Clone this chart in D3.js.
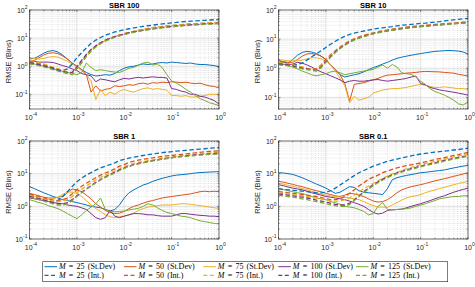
<!DOCTYPE html>
<html>
<head>
<meta charset="utf-8">
<script src="https://cdn.jsdelivr.net/npm/d3@7"></script>
<style>
body { margin: 0; background: #fff; }
</style>
</head>
<body>
<div id="chart"></div>
<script>
// x grid as powers of ten (exponents)
const xExp = [-4.0, -3.9, -3.8, -3.7, -3.6, -3.5, -3.4, -3.3, -3.2, -3.1,
              -3.0, -2.9, -2.8, -2.7, -2.6, -2.5, -2.4, -2.3, -2.2, -2.1,
              -2.0, -1.9, -1.8, -1.7, -1.6, -1.5, -1.4, -1.3, -1.2, -1.1,
              -1.0, -0.9, -0.8, -0.7, -0.6, -0.5, -0.4, -0.3, -0.2, -0.1, 0.0];
const mValues = [25, 50, 75, 100, 125];
const titles = ["SBR 100", "SBR 10", "SBR 1", "SBR 0.1"];
const yMins = [0.03, 0.04, 0.1, 0.1];
const xTicks = [-4, -3, -2, -1, 0];
const yTicks = [-1, 0, 1, 2];

// RMSE, St.Dev (solid) and Int. (dashed), one row per M
const sbr100Std = [
  [1.8,1.9,2.3,2.9,3.4,3.6,3.2,2.5,1.8,1.3, 1.0,0.75,0.6,0.5,0.45,0.47,0.5,0.48,0.55,0.7, 0.85,0.95,1.0,1.1,1.2,1.15,1.2,1.3,1.35,1.3, 1.4,1.35,1.3,1.25,1.3,1.2,1.15,1.15,1.1,1.05, 0.95],
  [1.5,1.6,2.0,2.5,2.9,3.0,2.8,2.3,1.8,1.3, 1.0,0.75,0.5,0.12,0.2,0.13,0.15,0.16,0.2,0.19, 0.2,0.22,0.21,0.24,0.25,0.23,0.26,0.25,0.27,0.26, 0.28,0.27,0.26,0.27,0.25,0.24,0.25,0.22,0.2,0.19, 0.17],
  [2.0,1.9,1.8,1.9,2.1,2.2,2.1,1.8,1.5,1.2, 0.95,0.7,0.5,0.3,0.065,0.15,0.09,0.12,0.1,0.13, 0.15,0.13,0.12,0.14,0.16,0.17,0.15,0.16,0.15,0.14, 0.09,0.09,0.085,0.09,0.08,0.08,0.085,0.09,0.1,0.1, 0.1],
  [1.4,1.5,1.4,1.4,1.4,1.35,1.2,1.05,0.95,0.8, 0.7,0.55,0.5,0.45,0.28,0.35,0.33,0.3,0.28,0.33, 0.37,0.35,0.38,0.4,0.38,0.4,0.42,0.4,0.4,0.38, 0.16,0.15,0.13,0.12,0.1,0.1,0.085,0.08,0.07,0.06, 0.045],
  [1.25,1.2,1.1,1.0,0.9,0.8,0.72,0.65,0.6,0.55, 0.5,0.6,1.3,0.9,0.7,0.75,0.7,0.65,0.62,0.6, 0.7,0.85,0.9,1.1,1.3,1.4,1.1,1.2,0.9,0.5, 0.3,0.25,0.2,0.15,0.12,0.09,0.07,0.06,0.05,0.045, 0.04]
];
const sbr100Int = [
  [1.3,1.25,1.1,1.0,0.9,0.8,0.7,0.7,0.8,1.2, 2.0,3.0,4.5,6.5,8.5,10.5,12.5,14.5,16.5,18, 20,21.5,23,24.5,26,27.5,29,30.5,32,33.5, 35,36,37.5,39,40,41,42,43,44,45, 46],
  [1.5,1.4,1.3,1.15,1.0,0.9,0.8,0.7,0.6,0.55, 0.9,1.5,2.5,3.8,5.2,6.8,8.5,10,11.5,13, 14.5,16,17.5,19,20.5,22,23.5,25,26,27, 28,29,30,31,32,32.5,33,34,35,35.5, 36],
  [1.6,1.5,1.35,1.2,1.05,0.9,0.8,0.7,0.6,0.55, 0.85,1.4,2.4,3.7,5.1,6.7,8.3,9.8,11.3,12.8, 14.2,15.5,17,18.5,20,21.5,23,24.5,25.5,26.5, 27.5,28.5,29.5,30.5,31.5,32,33,33.5,34.5,35, 35.5],
  [1.3,1.25,1.15,1.05,0.95,0.85,0.75,0.65,0.6,0.6, 0.95,1.6,2.6,3.9,5.3,6.8,8.3,9.8,11.2,12.5, 14,15.3,16.7,18,19.3,20.5,21.8,23,24,25, 26,27,28,29,29.5,30.5,31,32,32.5,33, 34],
  [1.2,1.15,1.05,0.95,0.85,0.75,0.68,0.6,0.55,0.5, 0.8,1.3,2.2,3.4,4.8,6.3,7.8,9.2,10.6,12, 13.3,14.7,16,17.3,18.5,19.7,21,22,23,24, 25,26,27,28,28.5,29.5,30,31,31.5,32, 32.5]
];
const sbr10Std = [
  [1.9,1.6,1.5,2.0,2.8,3.5,3.8,3.6,3.2,2.6, 2.0,1.3,0.9,0.6,0.5,0.55,0.6,0.65,0.75,0.9, 1.05,1.2,1.4,1.6,1.9,2.2,2.4,2.6,2.8,3.0, 3.2,3.4,3.6,3.8,3.9,4.0,4.1,4.0,3.9,3.6, 3.1],
  [1.8,1.7,1.6,1.6,2.0,2.6,3.1,3.2,3.0,2.6, 2.0,1.3,0.9,0.6,0.3,0.075,0.28,0.3,0.32,0.36, 0.4,0.45,0.52,0.58,0.6,0.62,0.65,0.68,0.7,0.72, 0.76,0.78,0.77,0.76,0.75,0.72,0.7,0.68,0.62,0.58, 0.54],
  [2.0,1.9,1.8,1.8,1.8,1.9,2.1,2.3,2.3,2.1, 1.8,1.3,0.8,0.45,0.25,0.065,0.11,0.08,0.09,0.1, 0.14,0.16,0.18,0.19,0.2,0.2,0.21,0.22,0.24,0.26, 0.28,0.26,0.24,0.22,0.22,0.23,0.22,0.21,0.2,0.2, 0.19],
  [1.4,1.35,1.3,1.4,1.6,1.5,1.3,1.1,0.9,0.75, 0.65,0.55,0.47,0.4,0.32,0.36,0.38,0.36,0.36,0.38, 0.4,0.41,0.38,0.36,0.38,0.4,0.42,0.45,0.5,0.54, 0.3,0.27,0.22,0.2,0.18,0.17,0.16,0.15,0.14,0.13, 0.12],
  [1.6,1.4,1.25,1.1,0.95,0.8,0.7,0.6,0.55,0.6, 0.65,0.75,0.8,0.7,0.6,0.65,0.7,0.75,0.8,0.85, 0.92,1.1,1.3,1.0,1.35,1.1,0.7,0.65,0.62,0.5, 0.36,0.28,0.2,0.16,0.14,0.12,0.1,0.08,0.06,0.055, 0.07]
];
const sbr10Int = [
  [1.4,1.35,1.3,1.3,1.35,1.5,1.9,2.5,3.1,4.0, 5.2,6.7,8.5,10.5,12.5,14.5,16,17.5,19,20.5, 22,23.3,24.5,25.8,27,28.5,30,31,32,33.2, 34.5,35.5,37,38.5,40,42,44,46,48,50, 51],
  [1.6,1.5,1.4,1.3,1.2,1.1,1.0,0.95,0.95,1.3, 2.0,2.9,4.0,5.4,7.0,8.7,10.3,12,13.5,15, 16.5,18,19.5,20.8,22,23.5,24.5,26,27,28, 29,30,31,32,33,34,35,36,37,38, 39],
  [1.6,1.5,1.4,1.3,1.2,1.1,1.0,0.95,0.9,1.2, 1.8,2.6,3.7,5.0,6.5,8.2,9.8,11.3,12.8,14.3, 15.8,17.2,18.5,19.8,21,22.2,23.4,24.5,25.5,26.5, 27.5,28.5,29.5,30.5,31.5,32.5,33.5,34.5,35.5,36.5, 37.5],
  [1.4,1.35,1.3,1.2,1.1,1.0,0.95,0.9,0.85,1.1, 1.7,2.5,3.6,4.9,6.4,8,9.6,11,12.5,14, 15.5,16.8,18,19.3,20.5,21.7,22.9,24,25,26, 27,28,29,30,31,32,33,34,35,36, 37],
  [1.3,1.25,1.2,1.1,1.05,0.95,0.9,0.85,0.8,1.05, 1.6,2.4,3.5,4.8,6.2,7.8,9.3,10.8,12.2,13.7, 15.2,16.5,17.8,19,20.2,21.4,22.6,23.7,24.7,25.7, 26.7,27.7,28.7,29.7,30.7,31.7,32.7,33.7,34.7,35.7, 36.5]
];
const sbr1Std = [
  [4.0,3.5,3.0,2.6,2.3,2.0,1.8,1.6,1.5,1.4, 1.3,1.2,1.1,1.0,0.95,0.9,0.8,0.72,0.8,1.1, 1.8,2.6,3.2,3.8,4.5,5.0,5.8,6.5,7.2,7.8, 8.5,9.0,9.3,9.6,10,10.5,10.8,11,11.2,11.4, 11.5],
  [2.5,2.3,2.1,1.9,1.8,1.8,1.9,2.0,2.6,3.4, 3.2,2.8,2.2,1.7,1.2,0.95,0.75,0.65,0.6,0.62, 0.7,0.85,1.0,1.1,1.25,1.4,1.5,1.65,1.8,1.9, 2.0,2.1,2.2,2.3,2.4,2.6,2.8,2.9,2.8,2.9, 2.8],
  [2.2,2.0,1.8,1.65,1.6,1.7,1.9,2.3,2.8,2.7, 2.5,2.0,1.5,1.1,0.85,0.69,0.55,0.48,0.45,0.48, 0.5,0.55,0.62,0.75,0.85,0.95,1.0,1.05,1.1,1.1, 1.1,1.15,1.2,1.2,1.15,1.1,1.05,1.0,0.95,0.9, 0.87],
  [1.8,1.7,1.6,1.5,1.4,1.3,1.25,1.2,1.1,1.05, 1.0,0.9,0.8,0.6,0.45,0.4,0.45,0.75,0.5,0.45, 0.5,0.55,0.6,0.6,0.58,0.55,0.55,0.52,0.5,0.5, 0.5,0.55,0.6,0.6,0.57,0.55,0.53,0.52,0.5,0.5, 0.48],
  [1.6,1.45,1.3,1.2,1.05,0.95,0.85,0.72,0.6,0.5, 0.42,0.55,0.75,0.95,1.2,1.8,0.8,0.7,0.68,0.7, 0.72,0.77,0.82,0.87,1.0,1.2,1.1,0.9,0.75,0.65, 0.6,0.55,0.5,0.48,0.45,0.4,0.36,0.34,0.32,0.3, 0.29]
];
const sbr1Int = [
  [2.2,2.0,1.8,1.6,1.45,1.35,1.5,2.0,2.8,4.0, 5.7,7.3,9.0,10.8,12.8,15,17,19,21.5,25, 27.5,30,32,34,36,38,40,42,44,45.5, 47,49,50.5,52,53.5,55,56.5,58,60,61.5, 63],
  [2.4,2.2,2.0,1.8,1.65,1.55,1.5,1.6,1.8,2.4, 3.2,4.1,5.1,6.2,7.5,9,10.5,12,14,17, 19,22,24,26,27.5,29,30.5,32,33.5,35, 36,37.5,39,40.5,42,43.5,45,46.5,48,49, 50],
  [2.2,2.0,1.85,1.7,1.55,1.45,1.4,1.45,1.6,2.0, 2.6,3.3,4.2,5.2,6.4,7.7,9,10.4,12,14, 16.5,18.5,20.5,22,23.5,25,26.5,28,29.5,31, 32.5,34,35.5,37,38.5,40,41,42,43,44, 45],
  [2.0,1.85,1.7,1.55,1.4,1.3,1.2,1.2,1.3,1.6, 2.1,2.7,3.4,4.3,5.4,6.6,8,9.4,11,13, 15,17,19,20.5,22,23.5,25,26.5,28,29.5, 31,32.5,34,35,36.5,37.5,38.5,39.5,40.5,41.5, 42],
  [1.9,1.75,1.6,1.45,1.3,1.2,1.1,1.1,1.2,1.5, 2.0,2.6,3.3,4.2,5.2,6.4,7.7,9,10.5,12.5, 14.5,16.5,18.5,20,21.5,23,24.5,26,27.5,29, 30.5,32,33,34,35,36,37,38,39,39.5, 40]
];
const sbr01Std = [
  [10.7,10.5,10.0,9.5,8.5,7.5,6.5,5.6,4.8,4.2, 3.6,3.0,2.5,2.7,3.3,4.0,3.8,3.0,2.7,2.6, 2.5,2.4,2.3,3.5,6.5,7.5,8.2,8.8,9.4,10, 10.7,11,11.5,12,12.5,13,14,15,16,17, 18],
  [5.8,5.5,5.1,4.7,4.3,4.0,3.6,3.3,3.0,2.8, 2.5,2.3,2.1,2.0,2.2,2.5,2.4,2.2,2.0,1.7, 1.45,1.35,1.4,1.6,2.0,2.6,3.2,3.6,4.0,4.3, 4.6,5.0,5.5,6.0,6.5,7.0,7.6,8.3,9.0,9.8, 10.7],
  [5.1,4.8,4.4,4.1,3.8,3.5,3.2,2.9,2.6,2.4, 2.2,2.1,2.0,1.9,1.9,1.8,1.7,1.6,1.4,1.2, 1.05,0.95,0.95,0.93,1.1,1.3,1.55,1.8,2.0,2.1, 2.3,2.6,2.9,3.2,3.5,3.8,4.2,4.6,5.0,5.4, 5.8],
  [4.6,4.3,3.9,3.6,3.4,3.2,2.9,2.6,2.4,2.2, 2.0,1.9,1.8,1.7,1.6,1.45,1.3,1.15,1.0,0.8, 0.65,0.58,0.62,0.75,0.78,0.8,0.82,0.9,1.0,1.1, 1.2,1.35,1.5,1.7,1.9,2.1,2.4,2.7,3.0,3.3, 3.6],
  [3.6,3.3,3.0,2.8,2.6,2.5,2.2,2.0,1.8,1.7, 1.6,1.4,1.3,1.15,1.0,0.95,0.9,0.8,0.7,0.55, 0.6,1.0,1.3,0.8,0.78,0.8,0.82,0.85,0.9,1.0, 1.1,1.2,1.35,1.5,1.7,1.8,1.9,2.0,2.0,2.1, 2.1]
];
const sbr01Int = [
  [3.4,3.3,3.2,3.1,3.0,2.9,2.8,2.7,2.6,2.6, 2.7,3.0,3.6,4.5,5.6,7.0,8.7,10.7,12.5,14.5, 17,19,21.5,24,26,28,30.5,32.5,35,37.5, 40,41.8,43.6,45.4,47.2,49,51,53,55,57.5, 60],
  [2.8,2.7,2.6,2.5,2.4,2.3,2.2,2.1,2.0,1.85, 1.7,1.6,1.6,1.7,2.0,2.5,3.2,4.2,5.3,6.7, 7.8,9,10.7,12,13.5,15,16.3,17.5,18.7,20, 21.3,23,25,27,29,31,33.5,36,38.5,41.5, 44.5],
  [2.6,2.5,2.4,2.3,2.2,2.1,2.0,1.9,1.8,1.7, 1.6,1.5,1.45,1.45,1.6,1.8,2.2,2.8,3.5,4.2, 5.0,6.0,7.2,8.5,9.8,11,12.5,14,15.5,17, 19,20.5,22,24,26,28,30,32.5,35,37.5, 40],
  [2.4,2.3,2.2,2.1,2.0,1.9,1.8,1.7,1.55,1.45, 1.35,1.25,1.15,1.1,1.1,1.25,1.6,2.1,2.8,3.6, 4.6,5.6,6.8,8,9.3,10.5,11.8,13,14.3,15.6, 17,18.5,20,21.5,23.5,25.5,27.5,29.5,31.5,33.5, 35],
  [2.2,2.1,2.0,1.9,1.8,1.7,1.6,1.5,1.4,1.3, 1.2,1.1,1.05,1.0,1.0,1.15,1.5,2.0,2.6,3.4, 4.3,5.3,6.4,7.6,8.8,10,11.2,12.4,13.6,14.9, 16.2,17.6,19,20.5,22,24,26,28,30,32, 34]
];

const stdSets = [sbr100Std, sbr10Std, sbr1Std, sbr01Std];
const intSets = [sbr100Int, sbr10Int, sbr1Int, sbr01Int];

const width = 475, height = 287;
const colors = ["#0072BD", "#D95319", "#EDB120", "#7E2F8E", "#77AC30"];
const axisColor = "#262626";
const boxes = [
  {x0: 29.5, x1: 219, y0: 10, y1: 109},
  {x0: 278.5, x1: 468, y0: 10, y1: 109},
  {x0: 29.5, x1: 219, y0: 141, y1: 239},
  {x0: 278.5, x1: 468, y0: 141, y1: 239}
];

const svg = d3.select("#chart").append("svg")
  .attr("width", width)
  .attr("height", height)
  .style("font-family", "'Liberation Sans', Arial, sans-serif");

const isDecade = v => Math.abs(Math.log10(v) - Math.round(Math.log10(v))) < 1e-6;

function powLabel(sel, e, fs) {
  sel.append("tspan").text("10");
  sel.append("tspan").attr("dy", -fs * 0.45).style("font-size", (fs * 0.72) + "px").text(e);
}

boxes.forEach((b, k) => {
  const x = d3.scaleLog().domain([1e-4, 1]).range([b.x0, b.x1]);
  const y = d3.scaleLog().domain([yMins[k], 100]).range([b.y1, b.y0]);
  const g = svg.append("g");

  g.append("clipPath").attr("id", "clip" + k)
    .append("rect").attr("x", b.x0).attr("y", b.y0)
    .attr("width", b.x1 - b.x0).attr("height", b.y1 - b.y0);

  const xt = x.ticks(), yt = y.ticks();

  // grid: minor dotted, major solid
  g.append("g").selectAll("line").data(xt.filter(v => !isDecade(v))).join("line")
    .attr("x1", d => x(d)).attr("x2", d => x(d)).attr("y1", b.y0).attr("y2", b.y1)
    .attr("stroke", "#cfcfcf").attr("stroke-width", 0.5).attr("stroke-dasharray", "1,1");
  g.append("g").selectAll("line").data(yt.filter(v => !isDecade(v))).join("line")
    .attr("y1", d => y(d)).attr("y2", d => y(d)).attr("x1", b.x0).attr("x2", b.x1)
    .attr("stroke", "#cfcfcf").attr("stroke-width", 0.5).attr("stroke-dasharray", "1,1");
  g.append("g").selectAll("line").data(xTicks).join("line")
    .attr("x1", d => x(10 ** d)).attr("x2", d => x(10 ** d)).attr("y1", b.y0).attr("y2", b.y1)
    .attr("stroke", "#d2d2d2").attr("stroke-width", 0.7);
  g.append("g").selectAll("line").data(yTicks).join("line")
    .attr("y1", d => y(10 ** d)).attr("y2", d => y(10 ** d)).attr("x1", b.x0).attr("x2", b.x1)
    .attr("stroke", "#d2d2d2").attr("stroke-width", 0.7);

  // curves
  const line = d3.line()
    .x((d, i) => x(10 ** xExp[i]))
    .y(d => y(d));
  const plot = g.append("g").attr("clip-path", `url(#clip${k})`);
  stdSets[k].forEach((s, i) => {
    plot.append("path").datum(s).attr("d", line)
      .attr("fill", "none").attr("stroke", colors[i]).attr("stroke-width", 1)
      .attr("stroke-linejoin", "round");
  });
  intSets[k].forEach((s, i) => {
    plot.append("path").datum(s).attr("d", line)
      .attr("fill", "none").attr("stroke", colors[i]).attr("stroke-width", 1.3)
      .attr("stroke-dasharray", "4.5,2.5");
  });

  // ticks inside, on all four sides
  const tk = g.append("g").attr("stroke", axisColor).attr("stroke-width", 0.5);
  xt.forEach(v => {
    const L = isDecade(v) ? 2 : 1.2;
    tk.append("line").attr("x1", x(v)).attr("x2", x(v)).attr("y1", b.y1).attr("y2", b.y1 - L);
    tk.append("line").attr("x1", x(v)).attr("x2", x(v)).attr("y1", b.y0).attr("y2", b.y0 + L);
  });
  yt.forEach(v => {
    const L = isDecade(v) ? 2 : 1.2;
    tk.append("line").attr("y1", y(v)).attr("y2", y(v)).attr("x1", b.x0).attr("x2", b.x0 + L);
    tk.append("line").attr("y1", y(v)).attr("y2", y(v)).attr("x1", b.x1).attr("x2", b.x1 - L);
  });

  g.append("rect").attr("x", b.x0).attr("y", b.y0)
    .attr("width", b.x1 - b.x0).attr("height", b.y1 - b.y0)
    .attr("fill", "none").attr("stroke", axisColor).attr("stroke-width", 0.6);

  // tick labels
  const fs = 7;
  xTicks.forEach(e => {
    const t = g.append("text").attr("x", x(10 ** e) + 1.5).attr("y", b.y1 + 10.5)
      .attr("text-anchor", "middle").attr("fill", axisColor).style("font-size", fs + "px");
    powLabel(t, e, fs);
  });
  yTicks.forEach(e => {
    const t = g.append("text").attr("x", b.x0 - 2).attr("y", y(10 ** e) + 2.5)
      .attr("text-anchor", "end").attr("fill", axisColor).style("font-size", fs + "px");
    powLabel(t, e, fs);
  });

  g.append("text").attr("x", (b.x0 + b.x1) / 2).attr("y", b.y0 - 2)
    .attr("text-anchor", "middle").attr("fill", "#000")
    .style("font-size", "7.5px").style("font-weight", "bold").text(titles[k]);

  g.append("text")
    .attr("transform", `translate(${b.x0 - 19},${(b.y0 + b.y1) / 2 + 2}) rotate(-90)`)
    .attr("text-anchor", "middle").attr("fill", axisColor)
    .style("font-size", "7.5px").text("RMSE (Bins)");
});

// legend
const lg = svg.append("g").style("font-family", "'Liberation Serif', 'Times New Roman', serif");
lg.append("rect").attr("x", 42.7).attr("y", 261.7).attr("width", 405).attr("height", 20)
  .attr("fill", "#fff").attr("stroke", axisColor).attr("stroke-width", 0.6);
const legendX = [44.5, 124, 203.3, 278.3, 356];
const legendRows = [{y: 266.7, tag: "(St.Dev)", dash: null, w: 1}, {y: 275.3, tag: "(Int.)", dash: "4,2.5", w: 1.2}];
legendRows.forEach(r => {
  mValues.forEach((m, i) => {
    lg.append("line").attr("x1", legendX[i]).attr("x2", legendX[i] + 12.5)
      .attr("y1", r.y).attr("y2", r.y)
      .attr("stroke", colors[i]).attr("stroke-width", r.w)
      .attr("stroke-dasharray", r.dash);
    const t = lg.append("text").attr("x", legendX[i] + 14.5).attr("y", r.y + 2.5)
      .attr("fill", "#000").style("font-size", "8px").style("word-spacing", "1.2px");
    t.append("tspan").style("font-style", "italic").text("M");
    t.append("tspan").text(` = ${m} ${r.tag}`);
  });
});
</script>
</body>
</html>
